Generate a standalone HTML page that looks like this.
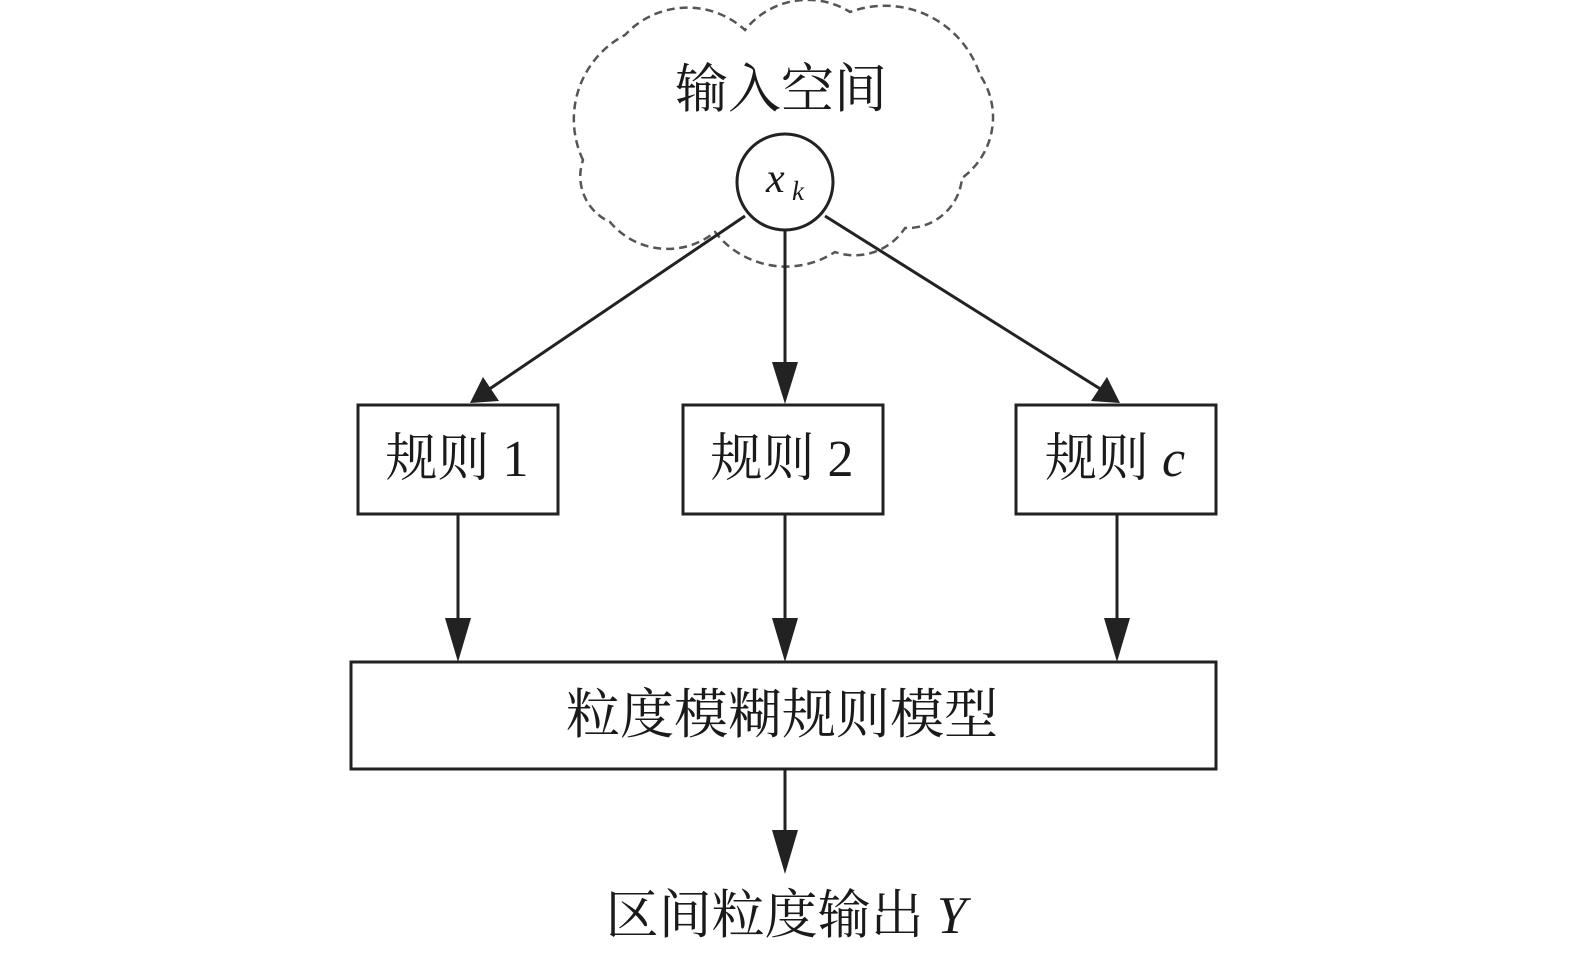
<!DOCTYPE html>
<html><head><meta charset="utf-8"><style>
html,body{margin:0;padding:0;background:#fff;}
svg{display:block;}
text{font-family:"Liberation Serif","Noto Serif CJK SC",serif;fill:#1a1a1a;}
</style></head><body>
<svg width="1575" height="954" viewBox="0 0 1575 954" xmlns="http://www.w3.org/2000/svg">
<!-- cloud -->
<path d="M583,160 A95,95 0 0 1 625,35 A85,85 0 0 1 745,30 A80,80 0 0 1 850,12 A100,100 0 0 1 980,75 A75,75 0 0 1 962,178 A55,55 0 0 1 905,228 A60,60 0 0 1 835,252 A90,90 0 0 1 715,232 A75,75 0 0 1 610,222 A50,50 0 0 1 583,160 Z" fill="none" stroke="#555" stroke-width="2.5" stroke-dasharray="8 5"/>
<text x="781" y="107" font-size="53" text-anchor="middle">输入空间</text>
<!-- circle -->
<circle cx="785" cy="182" r="48" fill="#fff" stroke="#222" stroke-width="3"/>
<text x="766" y="192" font-size="42" font-style="italic">x</text>
<text x="792" y="200" font-size="27" font-style="italic">k</text>
<g stroke="#222" stroke-width="3" fill="none">
<line x1="745" y1="216" x2="488" y2="390"/>
<line x1="785" y1="230" x2="785" y2="380"/>
<line x1="825" y1="216" x2="1102" y2="390"/>
<line x1="458" y1="514" x2="458" y2="630"/>
<line x1="785" y1="514" x2="785" y2="630"/>
<line x1="1117" y1="514" x2="1117" y2="630"/>
<line x1="785" y1="769" x2="785" y2="842"/>
<rect x="358" y="405" width="200" height="109"/>
<rect x="683" y="405" width="200" height="109"/>
<rect x="1016" y="405" width="200" height="109"/>
<rect x="351" y="662" width="865" height="107"/>
</g>
<g fill="#222">
<polygon points="470,403 483,377 499,401"/>
<polygon points="785,404 772,362 798,362"/>
<polygon points="1120,403 1091,401 1107,377"/>
<polygon points="458,662 445,618 471,618"/>
<polygon points="785,662 772,618 798,618"/>
<polygon points="1117,662 1104,618 1130,618"/>
<polygon points="785,874 772,830 798,830"/>
</g>
<text x="457" y="476" font-size="52" text-anchor="middle">规则 1</text>
<text x="782" y="476" font-size="52" text-anchor="middle">规则 2</text>
<text x="1115" y="476" font-size="52" text-anchor="middle">规则 <tspan font-style="italic">c</tspan></text>
<text x="782" y="733" font-size="54" text-anchor="middle">粒度模糊规则模型</text>
<text x="786" y="933" font-size="53" text-anchor="middle">区间粒度输出 <tspan font-style="italic">Y</tspan></text>
</svg>
</body></html>
